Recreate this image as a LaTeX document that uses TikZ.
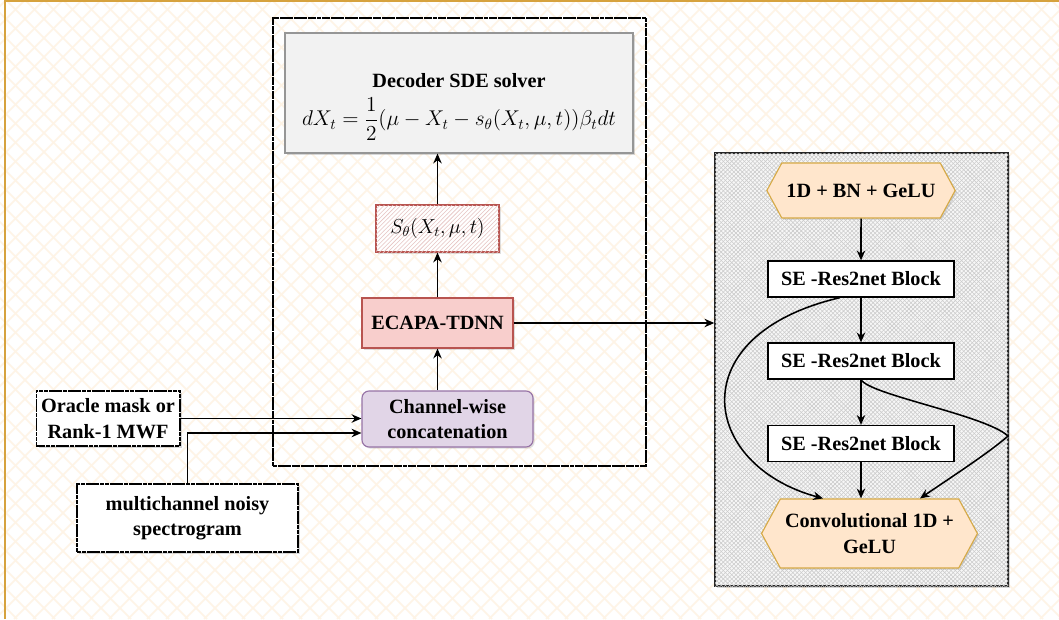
\RequirePackage{fix-cm}
\documentclass[tikz,border=0pt]{standalone}
\usepackage[no-math]{fontspec}
\setmainfont{Liberation Serif}
\usetikzlibrary{shapes.geometric, shapes.symbols, arrows.meta, positioning, patterns, shadows}
\definecolor{pageorange}{RGB}{214,162,62}
\definecolor{bghatch}{RGB}{254,244,230}
\definecolor{solvergray}{RGB}{242,242,242}
\definecolor{solverline}{RGB}{150,150,150}
\definecolor{ecapared}{RGB}{248,206,204}
\definecolor{ecapaline}{RGB}{184,84,80}
\definecolor{concatpurple}{RGB}{225,213,231}
\definecolor{concatline}{RGB}{150,115,166}
\definecolor{hexorange}{RGB}{255,230,204}
\definecolor{hexline}{RGB}{214,170,70}
\definecolor{textdark}{RGB}{0,0,0}

\begin{document}
\begin{tikzpicture}[
    layer/.style={rectangle, align=center, font=\bfseries\fontsize{14.4}{18}\selectfont, text=textdark},
    sketchbox/.style={layer, draw=textdark, fill=white, line width=1.3pt, dash pattern=on 3pt off 0.4pt, drop shadow={opacity=0.3, shadow xshift=1.5pt, shadow yshift=-1.5pt}},
    plainbox/.style={layer, draw=textdark, fill=white, line width=0.9pt, minimum width=4.65cm, minimum height=0.9cm},
    hexbox/.style={layer, signal, signal to=east and west, signal pointer angle=123, fill=hexorange, draw=hexline, line width=0.8pt, drop shadow={opacity=0.25, shadow xshift=1.2pt, shadow yshift=-1.2pt}},
    arrow/.style={-{Stealth[length=7pt, width=6pt]}, line width=1.1pt, color=textdark},
]
\useasboundingbox (0,0) rectangle (26.475,-15.475);

% Page background
\begin{scope}
\clip (0,0) rectangle (26.475,-15.475);
\fill[white] (0,0) rectangle (26.475,-15.475);
\foreach \c in {-16,-15.525,...,42}{
    \draw[bghatch, line width=1.2pt] (\c,0) -- ++(15.475,-15.475);
    \draw[bghatch, line width=1.2pt] (\c,0) -- ++(-15.475,-15.475);
}
\draw[pageorange, line width=1pt] (0.125,-15.475) |- (26.475,-0.025);
\end{scope}

% Frames
\node[draw=textdark, line width=1.4pt, dash pattern=on 3pt off 0.3pt, minimum width=9.325cm, minimum height=11.2cm] (solverframe) at (11.4875,-6.05) {};
\node[draw=textdark!85, line width=1pt, fill=gray!6, minimum width=7.325cm, minimum height=10.825cm,
    postaction={pattern=north east lines, pattern color=gray!40},
    postaction={pattern=north west lines, pattern color=gray!40},
    drop shadow={opacity=0.3, shadow xshift=1.5pt, shadow yshift=-1.5pt}] (encoderframe) at (21.5375,-9.2375) {};

% Solver column
\node[layer, draw=solverline, fill=solvergray, line width=0.8pt, minimum width=8.7cm, minimum height=3cm,
    drop shadow={opacity=0.3, shadow xshift=1.5pt, shadow yshift=-1.5pt}] (decoder) at (11.475,-2.325)
    {\rule{0pt}{30pt}Decoder SDE solver\\[6pt]\mdseries\fontsize{15.2}{18}\selectfont$\displaystyle dX_t=\frac{1}{2}(\mu-X_t-s_{\theta}(X_t,\mu,t))\beta_t dt$};
\node[layer, draw=ecapaline, fill=white, line width=0.8pt, minimum width=3.075cm, minimum height=1.175cm,
    postaction={pattern=north east lines, pattern color=ecapaline!35},
    drop shadow={opacity=0.25, shadow xshift=1.2pt, shadow yshift=-1.2pt}] (score) at (10.9375,-5.7125) {\mdseries\fontsize{14.4}{17}\selectfont$S_{\theta}(X_t,\mu,t)$};
\node[layer, draw=ecapaline, fill=ecapared, line width=0.8pt, minimum width=3.775cm, minimum height=1.25cm,
    drop shadow={opacity=0.25, shadow xshift=1.2pt, shadow yshift=-1.2pt}] (ecapa) at (10.9375,-8.075) {ECAPA-TDNN};
\node[layer, draw=concatline, fill=concatpurple, line width=0.8pt, rounded corners=5pt, minimum width=4.275cm, minimum height=1.4cm,
    drop shadow={opacity=0.25, shadow xshift=1.2pt, shadow yshift=-1.2pt}] (concat) at (11.1875,-10.475) {Channel-wise\\concatenation};

% Inputs
\node[sketchbox, minimum width=3.55cm, minimum height=1.375cm] (oracle) at (2.7,-10.4625) {Oracle mask or\\Rank-1 MWF};
\node[sketchbox, minimum width=5.525cm, minimum height=1.7cm] (noisy) at (4.6875,-12.95) {multichannel noisy\\spectrogram};

\draw[arrow] (oracle.east) -- (oracle.east -| concat.west);
\draw[arrow] (noisy.north) |- ([yshift=-0.35cm]concat.west);
\draw[arrow] (concat.north -| ecapa.south) -- (ecapa.south);
\draw[arrow] (ecapa) -- (score);
\draw[arrow] (score) -- (score |- decoder.south);
\draw[arrow] (ecapa.east) -- (ecapa.east -| encoderframe.west);

% Encoder column
\node[hexbox, minimum width=4.6cm, minimum height=1.375cm] (stem) at (21.525,-4.7625) {1D + BN + GeLU};
\node[plainbox] (res1) at (21.525,-6.975) {SE -Res2net Block};
\node[plainbox] (res2) at (21.525,-9.025) {SE -Res2net Block};
\node[plainbox] (res3) at (21.525,-11.0875) {SE -Res2net Block};
\node[hexbox, minimum width=5.075cm, minimum height=1.725cm] (convout) at (21.7375,-13.3375) {Convolutional 1D +\\GeLU};

\draw[arrow] (stem) -- (res1);
\draw[arrow] (res1) -- (res2);
\draw[arrow] (res2) -- (res3);
\draw[arrow] (res3.south) -- (res3.south |- convout.north);
\draw[arrow] ([xshift=-0.525cm]res1.south) .. controls (17.0,-8.375) and (17.5,-11.625) .. ([xshift=-1.1625cm]convout.north);
\draw[arrow] (res2.south) .. controls (21.75,-9.875) and (24.625,-10.375) .. (25.2,-10.9)
    .. controls (24.75,-11.3) and (23.75,-11.95) .. ([xshift=1.2625cm]convout.north);

\end{tikzpicture}
\end{document}
